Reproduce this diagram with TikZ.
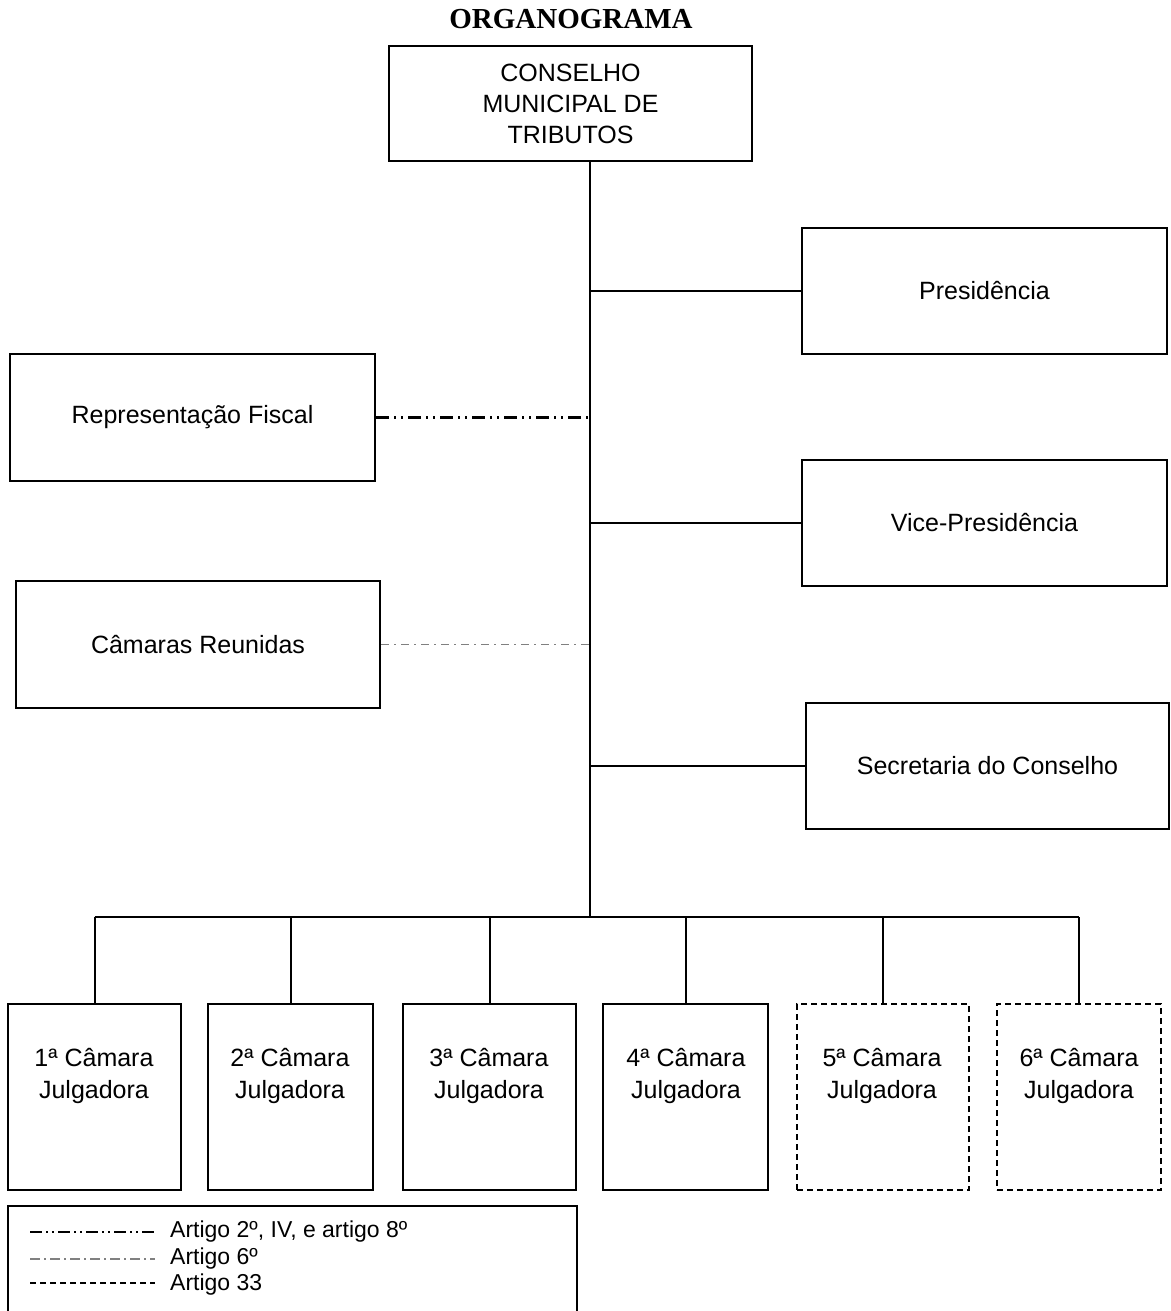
\documentclass[tikz,border=0pt]{standalone}
\usepackage{fontspec}
\setmainfont{Liberation Sans}
\newfontfamily\titlefont{Liberation Serif}
\begin{document}
\begin{tikzpicture}[x=1pt,y=-1pt,
  box/.style={draw,line width=2pt,inner sep=0pt,align=center,font=\fontsize{25}{31}\selectfont},
  dbox/.style={box,dash pattern=on 6pt off 4pt},
  conn/.style={line width=2pt},
  fiscal/.style={line width=2.6pt,dash pattern=on 13pt off 5pt on 2pt off 5pt on 2pt off 5pt},
  reun/.style={line width=1.3pt,gray,dash pattern=on 8pt off 5pt on 2pt off 5pt},
  boxtext/.style={align=center,inner sep=0pt,font=\fontsize{25}{32}\selectfont},
  legtext/.style={anchor=west,inner sep=0pt,font=\fontsize{23}{23}\selectfont}]
\useasboundingbox (0,0) rectangle (1170,1311);
\node[inner sep=0pt,font=\titlefont\bfseries\fontsize{29}{29}\selectfont] (title) at (571,19) {ORGANOGRAMA};
\node[box,minimum width=363pt,minimum height=115pt] (top) at (570.5,103.5) {CONSELHO\\MUNICIPAL DE\\TRIBUTOS};
\node[box,minimum width=365pt,minimum height=126pt] (pres) at (984.5,291) {Presidência};
\node[box,minimum width=365pt,minimum height=127pt] (rep) at (192.5,417.5) {Representação Fiscal};
\node[box,minimum width=365pt,minimum height=126pt] (vice) at (984.5,523) {Vice-Presidência};
\node[box,minimum width=364pt,minimum height=127pt] (reu) at (198,644.5) {Câmaras Reunidas};
\node[box,minimum width=363pt,minimum height=126pt] (sec) at (987.5,766) {Secretaria do Conselho};
% bottom boxes
\node[box,minimum width=173pt,minimum height=186pt] (c1) at (94.5,1097) {};
\node[box,minimum width=165pt,minimum height=186pt] (c2) at (290.5,1097) {};
\node[box,minimum width=173pt,minimum height=186pt] (c3) at (489.5,1097) {};
\node[box,minimum width=165pt,minimum height=186pt] (c4) at (685.5,1097) {};
\node[dbox,minimum width=172pt,minimum height=186pt] (c5) at (883,1097) {};
\node[dbox,minimum width=164pt,minimum height=186pt] (c6) at (1079,1097) {};
\node[boxtext] (t1) at (94,1076) {1ª Câmara\\Julgadora};
\node[boxtext] (t2) at (290,1076) {2ª Câmara\\Julgadora};
\node[boxtext] (t3) at (489,1076) {3ª Câmara\\Julgadora};
\node[boxtext] (t4) at (686,1076) {4ª Câmara\\Julgadora};
\node[boxtext] (t5) at (882,1076) {5ª Câmara\\Julgadora};
\node[boxtext] (t6) at (1079,1076) {6ª Câmara\\Julgadora};
% connectors
\coordinate (tt) at (590,161);
\coordinate (bus) at (590,917);
\draw[conn] (tt) -- (bus);
\draw[conn] (pres.west) -- (pres.west -| tt);
\draw[conn] (vice.west) -- (vice.west -| tt);
\draw[conn] (sec.west) -- (sec.west -| tt);
\draw[fiscal] (rep.east) -- (rep.east -| tt);
\draw[reun] (reu.east) -- (reu.east -| tt);
\draw[conn] (c1.north |- bus) -- (c6.north |- bus);
\foreach \c in {c1,c2,c3,c4,c5,c6}{\draw[conn] (\c.north |- bus) -- (\c.north);}
% legend
\draw[line width=2pt] (8,1313) -- (8,1206) -- (577,1206) -- (577,1313);
\coordinate (l1a) at (30,1232); \coordinate (l1b) at (155,1232);
\coordinate (l2a) at (30,1259); \coordinate (l2b) at (155,1259);
\coordinate (l3a) at (30,1283); \coordinate (l3b) at (155,1283);
\draw[line width=2pt,dash pattern=on 12pt off 4pt on 2pt off 4pt on 2pt off 4pt] (l1a) -- (l1b);
\draw[line width=1.2pt,gray,dash pattern=on 10pt off 4pt on 2pt off 4pt] (l2a) -- (l2b);
\draw[line width=1.2pt,dash pattern=on 6pt off 4pt] (l3a) -- (l3b);
\node[legtext] (g1) at (170,1232) {Artigo 2º, IV, e artigo 8º};
\node[legtext] (g2) at (170,1259) {Artigo 6º};
\node[legtext] (g3) at (170,1285) {Artigo 33};
\end{tikzpicture}
\end{document}
